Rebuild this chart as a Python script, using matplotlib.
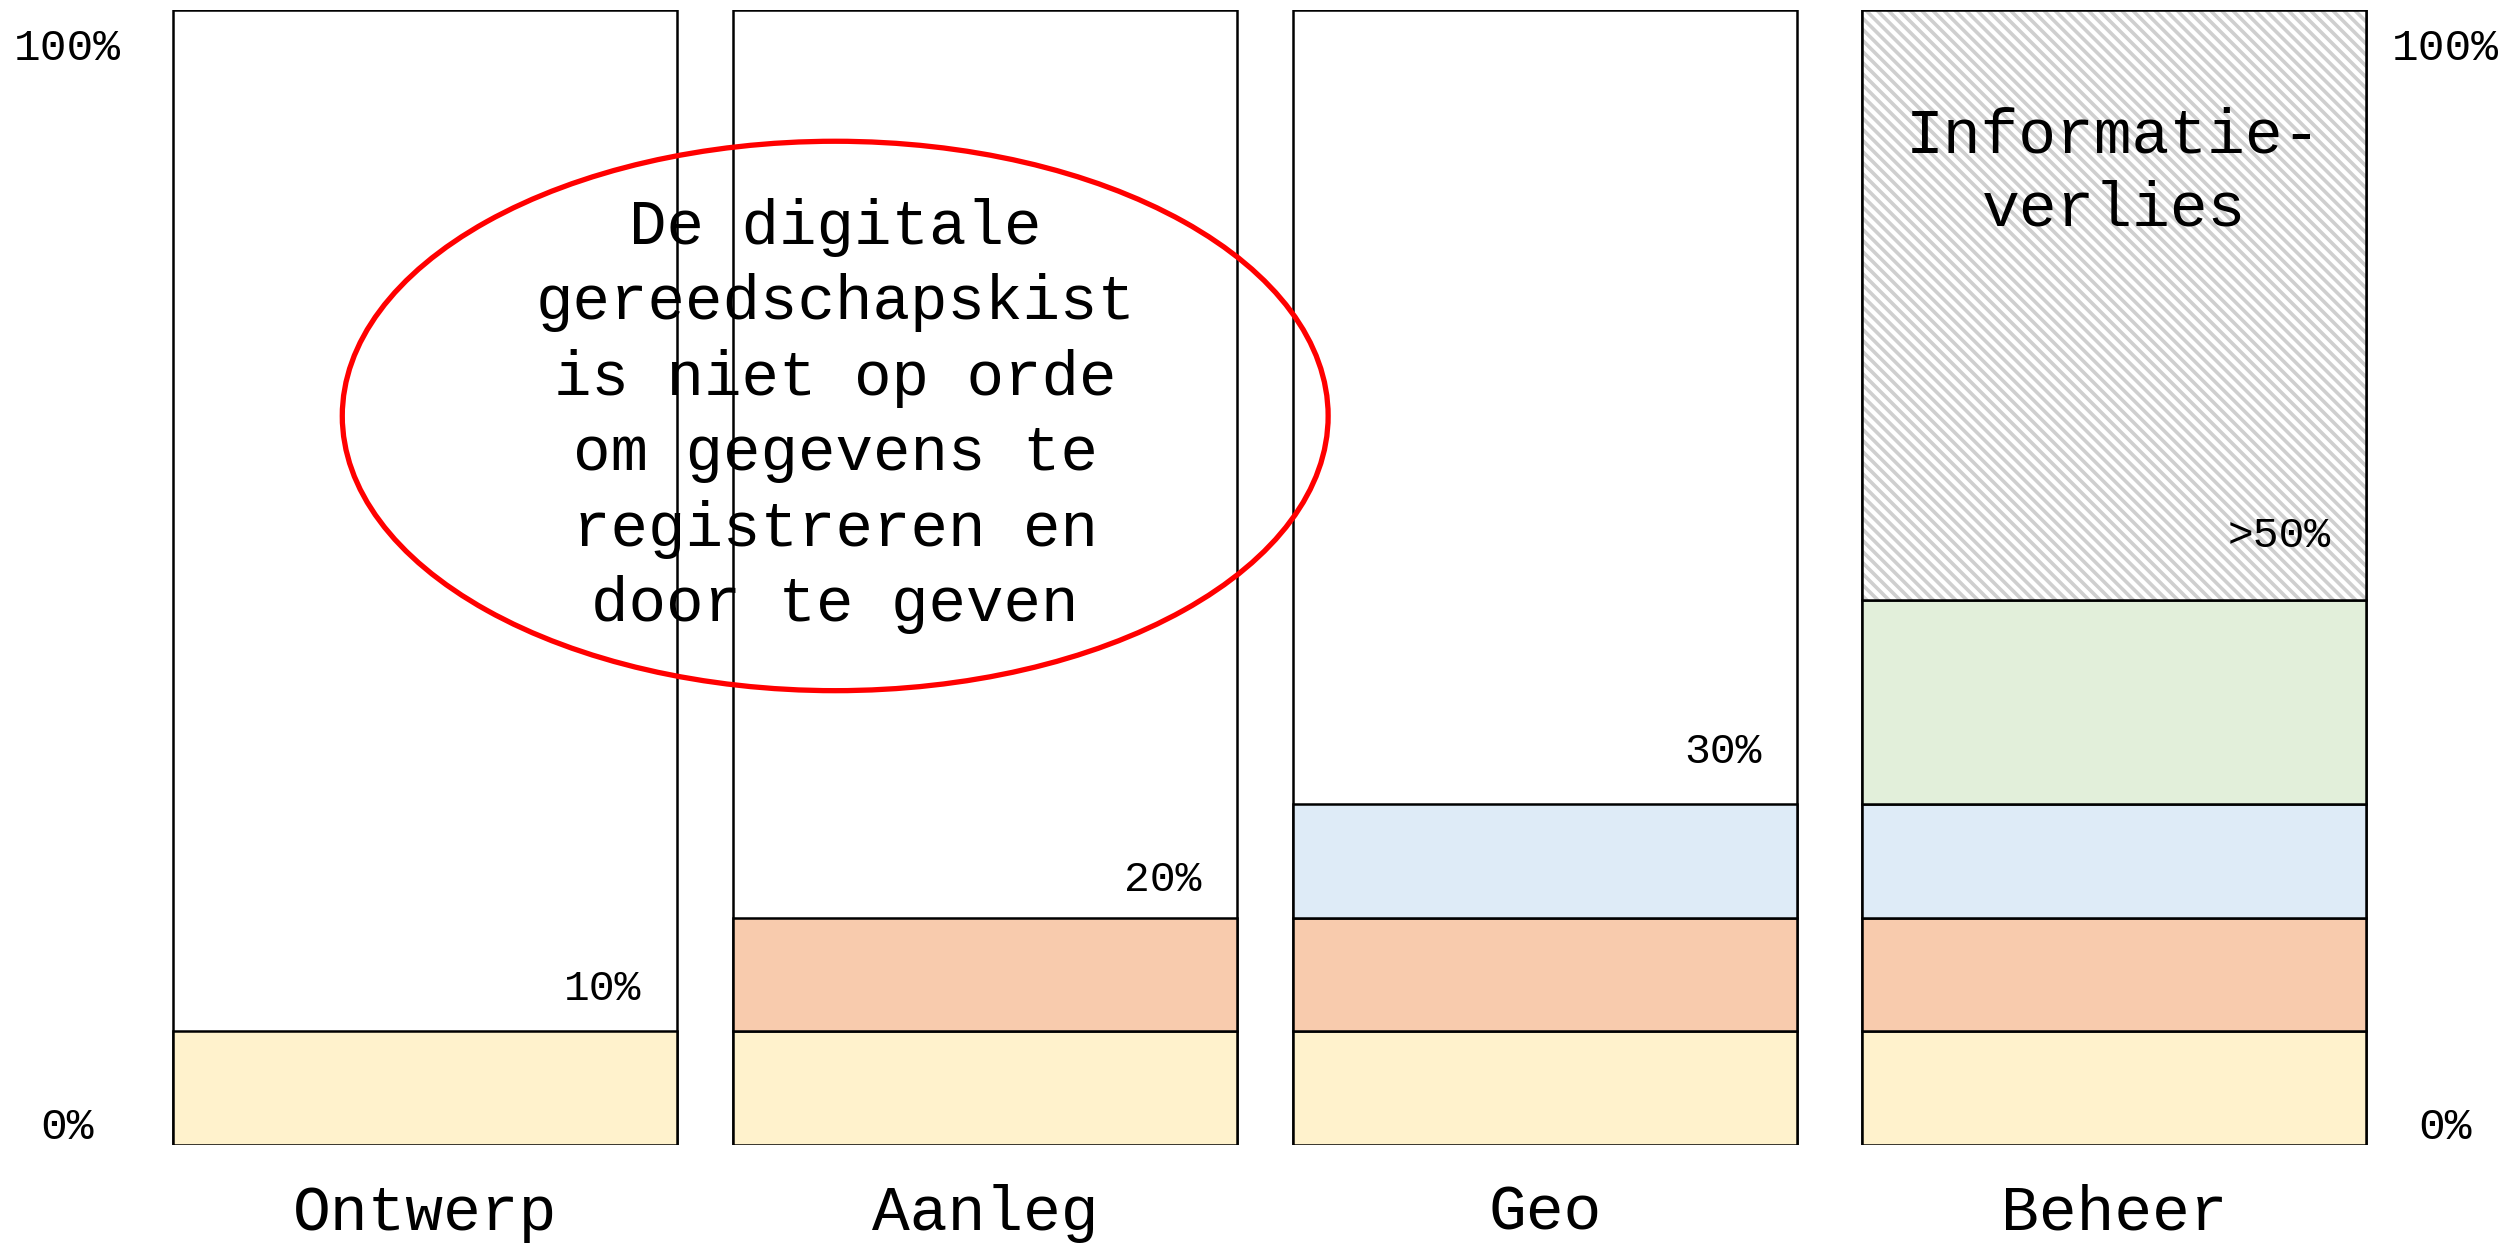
import matplotlib
matplotlib.use("Agg")
import matplotlib.pyplot as plt
from matplotlib.patches import Ellipse
from matplotlib.transforms import blended_transform_factory
import numpy as np

plt.rcParams['font.family'] = ['Liberation Mono', 'DejaVu Sans Mono']
plt.rcParams['hatch.linewidth'] = 1.3

# data (percent of information per phase)
phases = ['Ontwerp', 'Aanleg', 'Geo', 'Beheer']
ontwerp_share = [10, 10, 10, 10]
aanleg_share = [0, 10, 10, 10]
geo_share = [0, 0, 10, 10]
beheer_share = [0, 0, 0, 18]
verlies_share = [0, 0, 0, 52]
pct_labels = ['10%', '20%', '30%', '>50%']

layer_colors = ['#FFF2CC', '#F8CBAD', '#DEEBF7', '#E2EFDA']

fig = plt.figure(figsize=(12.545, 6.22), dpi=200)
ax = fig.add_axes([0.0571, 0.0798, 0.8976, 0.9125])

# column positions (slightly uneven, as in the original drawing)
x = np.array([0, 0.995, 1.99, 3.0])
w = 0.895
lw = 0.9

# empty outline of every column
ax.bar(x, 100, width=w, color='white', edgecolor='black', linewidth=lw, zorder=1)

bottom = np.zeros(len(phases))
for vals, col in zip([ontwerp_share, aanleg_share, geo_share, beheer_share], layer_colors):
    vals = np.array(vals, dtype=float)
    mask = vals > 0
    ax.bar(x[mask], vals[mask], bottom=bottom[mask], width=w, color=col,
           edgecolor='black', linewidth=lw, zorder=2)
    bottom += vals

# hatched information loss
vl = np.array(verlies_share, dtype=float)
m = vl > 0
ax.bar(x[m], vl[m], bottom=bottom[m], width=w, color='white', edgecolor='#cfcfcf',
       hatch='\\\\\\\\\\\\', linewidth=0, zorder=2)
ax.bar(x[m], vl[m], bottom=bottom[m], width=w, fill=False, edgecolor='black',
       linewidth=lw, zorder=3)

# percentage labels inside the columns
label_y = [13.7, 23.3, 34.6, 53.6]
for xi, t, yy in zip(x, pct_labels, label_y):
    ax.text(xi + 0.385, yy, t, ha='right', va='center', fontsize=15.5, zorder=5)

ax.text(x[3], 88.9, 'Informatie-', ha='center', va='center', fontsize=22.7, zorder=5)
ax.text(x[3], 82.4, 'verlies', ha='center', va='center', fontsize=22.7, zorder=5)

# red ellipse with remark
ax.add_patch(Ellipse((0.729, 64.2), 1.751, 48.4, fill=False, edgecolor='#FF0000',
                     linewidth=1.9, zorder=6))
ax.text(0.729, 64.2, 'De digitale\ngereedschapskist\nis niet op orde\nom gegevens te\n'
        'registreren en\ndoor te geven', ha='center', va='center', fontsize=22.5,
        linespacing=1.36, zorder=6)

# scale labels left and right
tr = blended_transform_factory(fig.transFigure, ax.transData)
for xf in [0.0268, 0.9745]:
    ax.text(xf, 96.6, '100%', transform=tr, ha='center', va='center', fontsize=16)
    ax.text(xf, 1.55, '0%', transform=tr, ha='center', va='center', fontsize=16)

ax.set_xlim(-0.5, 3.5)
ax.set_ylim(0, 100)
ax.set_xticks(x)
ax.set_xticklabels(phases, fontsize=22.7)
ax.tick_params(axis='x', length=0, pad=14)
ax.set_yticks([])
for s in ax.spines.values():
    s.set_visible(False)

fig.savefig('out.png', dpi=200)
